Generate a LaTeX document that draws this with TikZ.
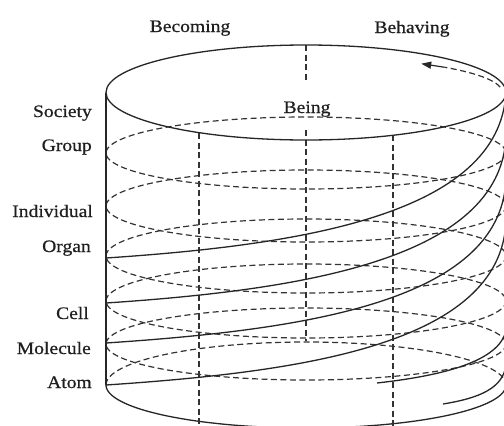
\documentclass[tikz,border=0pt]{standalone}
\usepackage{fontspec}
\setmainfont[FakeStretch=1.12,FakeBold=0.6]{Liberation Serif}
\usetikzlibrary{arrows.meta}
\begin{document}
\begin{tikzpicture}[x=1pt,y=-1pt,
  sline/.style={draw=black!85, line width=1.3pt},
  dline/.style={draw=black!80, line width=1.2pt, dash pattern=on 6pt off 3.5pt},
  lbl/.style={font=\fontsize{17.5}{20}\selectfont, text=black!88, inner sep=0pt}]
\fill[white] (0,0) rectangle (504,426);
\useasboundingbox (0,0) rectangle (504,426);
\clip (0,0) rectangle (504,426);

% dashed layer ellipses
\foreach \c/\r in {153/36,206/36,256/37,301/37,344/36}
  \draw[dline] plot[domain=0:360,samples=120,smooth] ({306+200*cos(\x)},{\c+\r*sin(\x)});

% bottom ellipse: back dashed, front solid
\draw[dline] plot[domain=180:360,samples=80,smooth] ({306+200*cos(\x)},{385+43*sin(\x)});
\draw[sline] plot[domain=0:180,samples=80,smooth] ({306+200*cos(\x)},{385+43*sin(\x)});

% vertical dashed lines
\draw[dline] (199,133) -- (199,426);
\draw[dline] (393,135) -- (393,426);
\draw[dline] (306,45) -- (306,82);
\draw[dline] (306,130) -- (306,341);

% top ellipse and left side
\draw[sline] (306,92.5) ellipse [x radius=200, y radius=47.5];
\draw[sline] (106,92.5) -- (106,385);

% helix curves
\draw[sline] (106,258) .. controls (300,245) and (500,215) .. (506,92);
\draw[sline] (106,303) .. controls (300,290) and (500,260) .. (506,137);
\draw[sline] (106,343) .. controls (300,330) and (500,303) .. (506,180);
\draw[sline] (106,385) .. controls (300,372) and (500,345) .. (506,222);
\draw[sline] (377,383) .. controls (440,376) and (500,362) .. (506,330);
\draw[sline] (443,404) .. controls (480,398) and (503,388) .. (506,365);

% dashed arrow on top
\draw[dline] plot[domain=8:45,samples=40,smooth] ({306+196*cos(\x)},{92-35*sin(\x)});
\coordinate (arrA) at ({306+196*cos(45)},{92-35*sin(45)});
\coordinate (arrB) at ({306+196*cos(54)},{92-35*sin(54)});
\draw[draw=black!85, line width=1.2pt, -{Triangle[length=10pt,width=7pt,fill=black!85]}] (arrA) -- (arrB);

% labels
\node[lbl, anchor=base] (becoming) at (190,32) {Becoming};
\node[lbl, anchor=base] (behaving) at (412,33) {Behaving};
\node[lbl, anchor=base] (being) at (307,113) {Being};
\node[lbl, anchor=base east] (society) at (92,117) {Society};
\node[lbl, anchor=base east] (group) at (92,151) {Group};
\node[lbl, anchor=base east] (individual) at (93,217) {Individual};
\node[lbl, anchor=base east] (organ) at (91,252) {Organ};
\node[lbl, anchor=base east] (cell) at (89,319) {Cell};
\node[lbl, anchor=base east] (molecule) at (91,354) {Molecule};
\node[lbl, anchor=base east] (atom) at (92,388) {Atom};
\end{tikzpicture}
\end{document}
